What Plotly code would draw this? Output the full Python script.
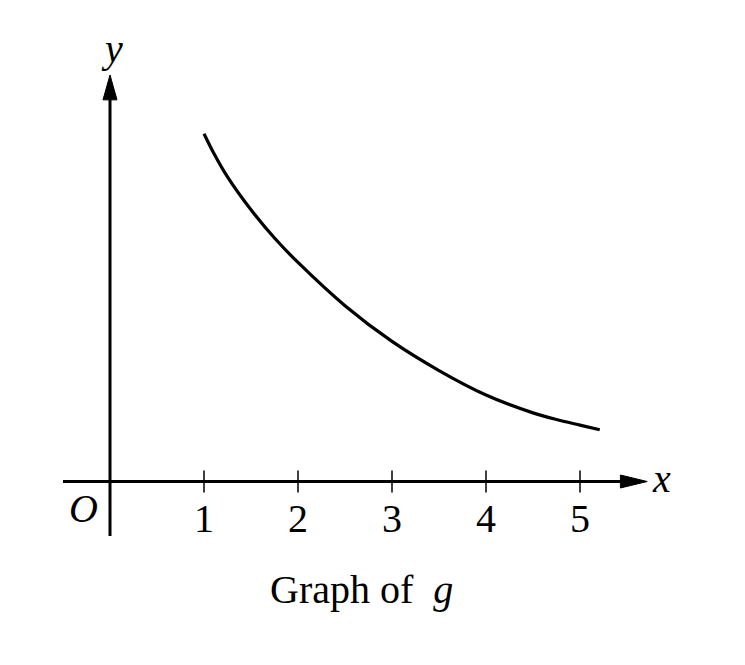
import plotly.graph_objects as go

# Curve data
x_vals = [1.00, 1.10, 1.25, 1.50, 1.75, 2.00, 2.50, 3.00, 3.50, 4.00, 4.50, 4.75, 5.00, 5.21]
y_vals = [3.70, 3.50, 3.24, 2.89, 2.59, 2.33, 1.87, 1.49, 1.18, 0.92, 0.73, 0.66, 0.60, 0.55]
tick_vals = [1, 2, 3, 4, 5]
tick_labels = ["1", "2", "3", "4", "5"]

W, H = 745, 665
OFFSET = 8  # page body margin
ORIGIN_PX = (110 - OFFSET, 481.5 - OFFSET)
UNIT = 94.0

x_range = [-ORIGIN_PX[0] / UNIT, (W - ORIGIN_PX[0]) / UNIT]
y_range = [(ORIGIN_PX[1] - H) / UNIT, ORIGIN_PX[1] / UNIT]

def px(v):
    return v / UNIT

serif = "Liberation Serif, Times New Roman, serif"

fig = go.Figure()
fig.add_trace(go.Scatter(x=x_vals, y=y_vals, mode="lines",
                         line=dict(color="black", width=3.2, shape="spline", smoothing=0.8),
                         hoverinfo="skip", showlegend=False))

shapes = []
# axes
x_axis_left, x_arrow_base, x_arrow_tip = -0.50, 5.45, 5.715
y_axis_bottom, y_arrow_base, y_arrow_tip = -0.58, 4.08, 4.325
shapes.append(dict(type="line", x0=x_axis_left, x1=x_arrow_base, y0=0, y1=0,
                   line=dict(color="black", width=3)))
shapes.append(dict(type="line", x0=0, x1=0, y0=y_axis_bottom, y1=y_arrow_base,
                   line=dict(color="black", width=3)))
hw_x = px(6.5)
hw_y = px(7)
shapes.append(dict(type="path",
                   path=f"M {x_arrow_base-0.02},{-hw_x} L {x_arrow_tip},0 L {x_arrow_base-0.02},{hw_x} Z",
                   fillcolor="black", line=dict(color="black", width=1)))
shapes.append(dict(type="path",
                   path=f"M {-hw_y},{y_arrow_base-0.02} L 0,{y_arrow_tip} L {hw_y},{y_arrow_base-0.02} Z",
                   fillcolor="black", line=dict(color="black", width=1)))
# ticks
for t in tick_vals:
    shapes.append(dict(type="line", x0=t, x1=t, y0=-px(11), y1=px(11),
                       line=dict(color="black", width=1.5)))

annotations = []
for t, lab in zip(tick_vals, tick_labels):
    annotations.append(dict(x=t, y=px(481.5 - 518), text=lab, showarrow=False,
                            xanchor="center", yanchor="middle",
                            font=dict(family=serif, size=40, color="black")))
annotations.append(dict(x=px(83 - 110), y=px(481.5 - 508), text="<i>O</i>", showarrow=False,
                        xanchor="center", yanchor="middle",
                        font=dict(family=serif, size=40, color="black")))
annotations.append(dict(x=px(661 - 110), y=px(481.5 - 478), text="<i>x</i>", showarrow=False,
                        xanchor="center", yanchor="middle",
                        font=dict(family=serif, size=40, color="black")))
annotations.append(dict(x=px(112 - 110), y=px(481.5 - 48), text="<i>y</i>", showarrow=False,
                        xanchor="center", yanchor="middle",
                        font=dict(family=serif, size=40, color="black")))
annotations.append(dict(x=px(361 - 110), y=px(481.5 - 589), text="Graph of  <i>g</i>", showarrow=False,
                        xanchor="center", yanchor="middle",
                        font=dict(family=serif, size=40, color="black")))

fig.update_layout(
    width=W, height=H, autosize=False,
    margin=dict(l=0, r=0, t=0, b=0),
    paper_bgcolor="white", plot_bgcolor="white",
    xaxis=dict(range=x_range, visible=False, fixedrange=True),
    yaxis=dict(range=y_range, visible=False, fixedrange=True),
    shapes=shapes, annotations=annotations, showlegend=False,
)
fig.write_html("out.html")
